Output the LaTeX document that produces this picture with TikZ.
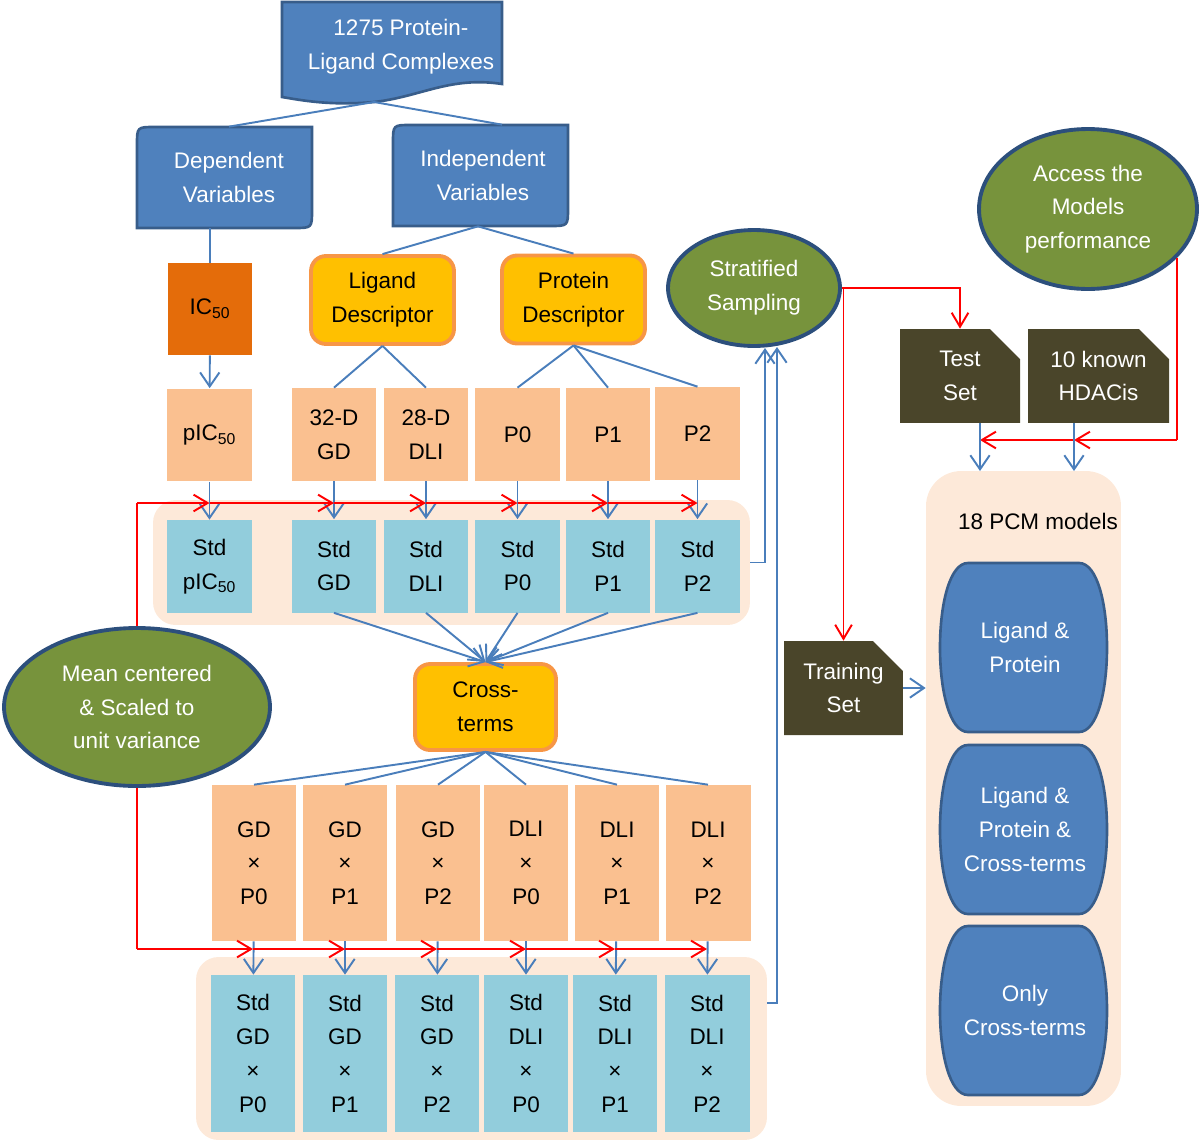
\documentclass[tikz,border=0pt]{standalone}
\usepackage{fontspec}
\setmainfont{Liberation Sans}
\usetikzlibrary{arrows.meta,shapes.geometric,shapes.misc,calc}
\definecolor{boxblue}{HTML}{4F81BD}
\definecolor{boxedge}{HTML}{385D8A}
\definecolor{lineblue}{HTML}{4A7EBB}
\definecolor{ellgreen}{HTML}{77933C}
\definecolor{elledge}{HTML}{2C4F7C}
\definecolor{icorange}{HTML}{E46C0A}
\definecolor{peach}{HTML}{FAC090}
\definecolor{lightblue}{HTML}{92CDDC}
\definecolor{descyellow}{HTML}{FFC000}
\definecolor{descedge}{HTML}{F79646}
\definecolor{bgpeach}{HTML}{FDE9D9}
\definecolor{darkolive}{HTML}{4A452A}
\tikzset{>={Straight Barb[length=8pt,width=11pt]}}
\tikzset{
  lbl/.style={font=\fontsize{12.8}{19.2}\selectfont, align=center, inner sep=0pt},
  conn/.style={draw=lineblue, line width=1.1pt},
  blarr/.style={conn, ->},
  redline/.style={draw=red, line width=1.1pt},
  redarr/.style={redline, -{Straight Barb[length=8pt,width=9.5pt]}},
  rawbox/.style={lbl, fill=peach, minimum width=1.7cm, minimum height=1.86cm},
  stdbox/.style={lbl, fill=lightblue, minimum width=1.7cm, minimum height=1.86cm},
  crossbox/.style={rawbox, minimum height=3.12cm},
  stdcross/.style={stdbox, minimum height=3.14cm},
  descbox/.style={lbl, fill=descyellow, draw=descedge, line width=2.2pt, rounded corners=0.3cm, minimum width=2.86cm, minimum height=1.76cm},
  greenell/.style={lbl, ellipse, fill=ellgreen, draw=elledge, line width=2.2pt, text=white},
  setbox/.style={lbl, chamfered rectangle, chamfered rectangle corners=north east, chamfered rectangle xsep=0.3cm, chamfered rectangle ysep=0.3cm, fill=darkolive, text=white, minimum height=1.88cm},
  backdrop/.style={fill=bgpeach, rounded corners=0.45cm, inner sep=0pt},
  bluefill/.style={fill=boxblue, draw=boxedge, line width=1.5pt},
}

\begin{document}
\begin{tikzpicture}[x=0.02cm, y=-0.02cm]
\useasboundingbox (0,0) rectangle (1200,1143);

% backdrops
\node[backdrop, minimum width=11.94cm, minimum height=2.5cm] (rowone) at (451.5,562.5) {};
\node[backdrop, minimum width=11.42cm, minimum height=3.66cm] (rowtwo) at (481.5,1048.5) {};
\node[backdrop, rounded corners=0.7cm, minimum width=3.9cm, minimum height=12.7cm] (models) at (1023.5,788.5) {};

% complexes and variables
\draw[bluefill] (282,2) -- (502,2) -- (502,84) .. controls (450,76) and (420,97) .. (374,102) .. controls (330,106) and (300,100) .. (282,97) -- cycle;
\node[lbl, text=white] (cplx) at (401,47) {1275 Protein-\\Ligand Complexes};
\coordinate (cplxb) at (374,102);
\draw[bluefill] (137,228) -- (137,145) .. controls (137,127) .. (155,127) -- (312,127) -- (312,210) .. controls (312,228) .. (294,228) -- cycle;
\node[lbl, text=white, minimum width=3.5cm, minimum height=2.02cm] (dep) at (229,177.5) {Dependent\\Variables};
\draw[bluefill] (393,226) -- (393,143) .. controls (393,125) .. (411,125) -- (568,125) -- (568,208) .. controls (568,226) .. (550,226) -- cycle;
\node[lbl, text=white, minimum width=3.5cm, minimum height=2.02cm] (indep) at (483,175.5) {Independent\\Variables};

% descriptors
\node[lbl, fill=icorange, minimum width=1.68cm, minimum height=1.84cm] (ic) at (210,309) {IC\textsubscript{50}};
\node[descbox] (lig) at (382.5,300) {Ligand\\Descriptor};
\node[descbox] (prot) at (573.5,299.5) {Protein\\Descriptor};

\node[rawbox] (pic) at (209.5,435) {pIC\textsubscript{50}};
\node[rawbox] (gd) at (334,434.5) {32-D\\GD};
\node[rawbox] (dli) at (426,434.5) {28-D\\DLI};
\node[rawbox] (pz) at (517.5,434.5) {P0};
\node[rawbox] (po) at (608,434.5) {P1};
\node[rawbox] (pt) at (697.5,433.5) {P2};

\node[stdbox] (spic) at (209.5,566.5) {Std\\pIC\textsubscript{50}};
\node[stdbox] (sgd) at (334,566) {Std\\GD};
\node[stdbox] (sdli) at (426,566) {Std\\DLI};
\node[stdbox] (spz) at (517.5,566) {Std\\P0};
\node[stdbox] (spo) at (608,566) {Std\\P1};
\node[stdbox] (spt) at (697.5,566) {Std\\P2};

\node[descbox, minimum width=2.82cm, minimum height=1.72cm] (cross) at (485.5,707) {Cross-\\terms};

% cross terms
\foreach \n/\x/\t in {gdpz/254/{GD\\×\\P0}, gdpo/345/{GD\\×\\P1}, gdpt/438/{GD\\×\\P2},
                      dlpz/526/{DLI\\×\\P0}, dlpo/617/{DLI\\×\\P1}, dlpt/708/{DLI\\×\\P2}}
  \node[crossbox] (\n) at (\x,863) {\t};
\foreach \n/\x/\t in {sgdpz/253/{Std\\GD\\×\\P0}, sgdpo/345/{Std\\GD\\×\\P1}, sgdpt/437/{Std\\GD\\×\\P2},
                      sdlpz/526/{Std\\DLI\\×\\P0}, sdlpo/615/{Std\\DLI\\×\\P1}, sdlpt/707/{Std\\DLI\\×\\P2}}
  \node[stdcross] (\n) at (\x,1053.5) {\t};

% ellipses
\node[greenell, minimum width=3.44cm, minimum height=2.32cm] (strat) at (754,288) {Stratified\\Sampling};
\node[greenell, minimum width=4.36cm, minimum height=3.2cm] (access) at (1088,209) {Access the\\Models\\performance};
\node[greenell, minimum width=5.32cm, minimum height=3.16cm] (mean) at (137,707) {Mean centered\\\& Scaled to\\unit variance};

% data sets
\node[setbox, minimum width=2.4cm] (test) at (960,376) {Test\\Set};
\node[setbox, minimum width=2.82cm] (hdac) at (1098.5,376) {10 known\\HDACis};
\node[setbox, minimum width=2.38cm] (train) at (843.5,688) {Training\\Set};

% models
\node[lbl] (pcm) at (1038,521) {18 PCM models};
\foreach \n/\yt/\yb/\t in {mlp/563/732/{Ligand \&\\Protein}, mlpc/745/914/{Ligand \&\\Protein \&\\Cross-terms}, mco/926/1095/{Only\\Cross-terms}}{
  \pgfmathsetmacro{\ym}{(\yt+\yb)/2}
  \draw[bluefill] (968,\yt) -- (1079,\yt) .. controls (1097,\yt) and (1107,\yt+40) .. (1107,\ym) .. controls (1107,\yb-40) and (1097,\yb) .. (1079,\yb) -- (968,\yb) .. controls (950,\yb) and (940,\yb-40) .. (940,\ym) .. controls (940,\yt+40) and (950,\yt) .. (968,\yt) -- cycle;
  \node[lbl, text=white] (\n) at (1025,\ym) {\t};
}

% connectors
\draw[conn] (cplxb) -- (dep.north);
\draw[conn] (cplxb) -- ([xshift=0.38cm]indep.north);
\draw[conn] (dep.south -| ic.north) -- (ic.north);
\draw[blarr] (ic) -- (pic);
\draw[conn] ([xshift=-0.1cm]indep.south) -- (lig.north);
\draw[conn] ([xshift=-0.1cm]indep.south) -- (prot.north);
\draw[conn] (lig.south) -- (gd.north);
\draw[conn] (lig.south) -- (dli.north);
\draw[conn] (prot.south) -- (pz.north);
\draw[conn] (prot.south) -- (po.north);
\draw[conn] (prot.south) -- (pt.north);
\foreach \a/\b in {pic/spic, gd/sgd, dli/sdli, pz/spz, po/spo, pt/spt}
  \draw[blarr] (\a) -- (\b);
\foreach \s in {sgd,sdli,spz,spo,spt}
  \draw[blarr] (\s.south) -- (cross.north);
\foreach \c in {gdpz,gdpo,gdpt,dlpz,dlpo,dlpt}
  \draw[conn] (cross.south) -- (\c.north);
\foreach \a/\b in {gdpz/sgdpz, gdpo/sgdpo, gdpt/sgdpt, dlpz/sdlpz, dlpo/sdlpo, dlpt/sdlpt}
  \draw[blarr] (\a) -- (\b);

% scaling (red)
\coordinate (rtop) at (mean.north |- 0,503);
\coordinate (rbot) at (mean.south |- 0,949);
\draw[redline] (mean.north) -- (rtop);
\draw[redarr] (rtop) -- (rtop -| spic.north);
\foreach \a/\b in {spic/sgd, sgd/sdli, sdli/spz, spz/spo, spo/spt}
  \draw[redarr] (rtop -| \a.north) -- (rtop -| \b.north);
\draw[redline] (mean.south) -- (rbot);
\draw[redarr] (rbot) -- (rbot -| sgdpz.north);
\foreach \a/\b in {sgdpz/sgdpo, sgdpo/sgdpt, sgdpt/sdlpz, sdlpz/sdlpo, sdlpo/sdlpt}
  \draw[redarr] (rbot -| \a.north) -- (rbot -| \b.north);

% sampling and evaluation
\coordinate (sin1) at (765,348);
\coordinate (sin2) at (777,347);
\draw[blarr] (rowone.east) -| (sin1);
\draw[blarr] (rowtwo.east |- 0,1003) -| (sin2);
\draw[redarr] (strat.east) -| (test.north);
\draw[redarr] (strat.east) -| (train.north);
\coordinate (rr) at (access.-29 |- 0,440);
\coordinate (tin) at (980,471);
\coordinate (hin) at (1074,471);
\draw[redline] (access.-29) -- (rr);
\draw[redarr] (rr) -- (rr -| hin);
\draw[redarr] (rr -| hin) -- (rr -| tin);
\draw[blarr] (test.south -| tin) -- (tin);
\draw[blarr] (hdac.south -| hin) -- (hin);
\draw[blarr] (train.east) -- (train.east -| models.west);
\end{tikzpicture}
\end{document}
